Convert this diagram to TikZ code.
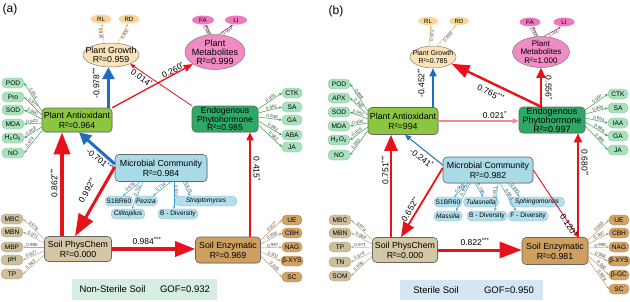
\documentclass[tikz,border=0pt]{standalone}
\usepackage{fontspec}
\setmainfont{Liberation Sans}
\usetikzlibrary{arrows.meta,shapes.geometric,calc,shadows}
\newcommand\fsz[1]{\fontsize{#1}{#1}\selectfont}
\newcommand\sig[1]{\textsuperscript{#1}}
\definecolor{cred}{HTML}{E8121B}
\definecolor{cblue}{HTML}{1F6DBE}
\definecolor{cpink}{HTML}{F28B8B}
\definecolor{cgreen}{HTML}{2EA84A}
\definecolor{corange}{HTML}{F5B35E}
\definecolor{cmag}{HTML}{B8307C}
\definecolor{csky}{HTML}{3CA6E2}
\definecolor{ctan}{HTML}{BBAA8A}
\definecolor{cbrown}{HTML}{C99B5A}
\definecolor{paf}{HTML}{8CC540}
\definecolor{epf}{HTML}{2BAA66}
\definecolor{gpl}{HTML}{A8E2BD}
\definecolor{pgf}{HTML}{FBE2B9}
\definecolor{rlf}{HTML}{F9D597}
\definecolor{pmf}{HTML}{F08BC3}
\definecolor{fal}{HTML}{EE78BC}
\definecolor{mcf}{HTML}{A8DBE6}
\definecolor{bpl}{HTML}{B2DFEC}
\definecolor{spf}{HTML}{D4C7A6}
\definecolor{spl}{HTML}{CDBE9C}
\definecolor{sef}{HTML}{CDA060}
\definecolor{sel}{HTML}{D0A265}
\definecolor{boxa}{HTML}{D6EEE1}
\definecolor{boxb}{HTML}{D5E5F2}
\begin{document}
\begin{tikzpicture}[x=1pt,y=-1pt,
  every node/.style={inner sep=0pt},
  latbox/.style={draw=black!60, line width=0.6pt, rounded corners=4pt, align=center,
    font=\fontsize{8.8}{9.8}\selectfont,
    drop shadow={opacity=0.3,shadow xshift=0.7pt,shadow yshift=-0.7pt}},
  latell/.style={ellipse, draw=black!50, line width=0.5pt},
  ltxt/.style={align=center, font=\fontsize{8.8}{9.4}\selectfont},
  pill/.style={rounded corners=4.5pt, minimum height=10pt, inner xsep=1.5pt, font=\fsz{6.6}, line width=0.25pt},
  gpill/.style={pill, fill=gpl, draw=gpl!80!black},
  bpill/.style={pill, fill=bpl, draw=bpl!80!black},
  spill/.style={pill, fill=spl, draw=spl!80!black},
  epill/.style={pill, fill=sel, draw=sel!80!black},
  smell/.style={latell, minimum width=21pt, minimum height=9pt, draw=none},
  load/.style={font=\fsz{4.5}, text=black!75, inner sep=0.3pt, sloped},
  plab/.style={font=\fsz{8.5}},
  ia/.style={line width=0.5pt, -{Stealth[length=3pt,width=2.4pt]}},
  rarr/.style n args={3}{draw=cred, line width=#1, -{Triangle[length=#2,width=#3]}},
  barr/.style n args={3}{draw=cblue, line width=#1, -{Triangle[length=#2,width=#3]}},
]
\useasboundingbox (0,0) rectangle (630,301);

% ================= panel (a) =================
\node[font=\fsz{12}] (labA) at (10,9) {(a)};

\node[latell, fill=pgf, minimum width=56pt, minimum height=24pt] (pgA) at (111,55) {};
\node[ltxt] (pgAt) at (pgA) {Plant Growth\\R²=0.959};
\node[smell, fill=rlf] (rlA) at (101,19) {};
\node[font=\fsz{6.2}] (rlAt) at (rlA) {RL};
\node[smell, fill=rlf] (rdA) at (129,19) {};
\node[font=\fsz{6.2}] (rdAt) at (rdA) {RD};

\node[latell, fill=pmf, minimum width=60pt, minimum height=35pt] (pmA) at (215,52) {};
\node[ltxt, font=\fontsize{9}{9}\selectfont] (pmAt) at (pmA) {Plant\\Metabolites\\R²=0.999};
\node[smell, fill=fal, minimum width=22pt] (faA) at (203,20) {};
\node[font=\fsz{6.2}] (faAt) at (faA) {FA};
\node[smell, fill=fal, minimum width=22pt] (liA) at (236,20) {};
\node[font=\fsz{6.2}] (liAt) at (liA) {LI};

\node[latbox, fill=paf, minimum width=70pt, minimum height=24pt] (paA) at (77,120) {Plant Antioxidant\\R²=0.964};
\node[latbox, fill=epf, minimum width=66pt, minimum height=26pt, font=\fontsize{8.6}{8.5}\selectfont] (epA) at (225,119) {Endogenous\\Phytohormone\\R²=0.985};
\node[latbox, fill=mcf, minimum width=92pt, minimum height=27pt] (mcA) at (161,168) {Microbial Community\\R²=0.984};
\node[latbox, fill=spf, minimum width=67pt, minimum height=25pt] (spA) at (78,249) {Soil PhysChem\\R²=0.000};
\node[latbox, fill=sef, minimum width=65pt, minimum height=26pt] (seA) at (228,250) {Soil Enzymatic\\R²=0.969};

% indicators (a)
\draw[ia, draw=corange] ($(pgA.north)+(-7,0)$) -- ($(rlA.south)+(1,0)$) node[load, midway, below] {0.935};
\draw[ia, draw=corange] ($(pgA.north)+(7,0)$) -- ($(rdA.south)+(-1,0)$) node[load, midway, below] {0.932};
\draw[ia, draw=cmag] ($(pmA.north)+(-4,0)$) -- ($(faA.south)+(3,0)$) node[load, midway, below] {0.988};
\draw[ia, draw=cmag] ($(pmA.north)+(4,0)$) -- ($(liA.south)+(-3,0)$) node[load, midway, below] {0.999};

\foreach \t/\y/\l [count=\i] in {POD/83/0.954,Pro/97/0.977,SOD/110/0.880,MDA/124/-0.923,{H\textsubscript{2}O\textsubscript{2}}/138/-0.958,NO/153/0.974}{
  \node[gpill, minimum width=22pt] (aa\i) at (13,\y) {\t};
  \draw[ia, draw=cgreen] ($(paA.west)+(0,-13+4*\i)$) -- (aa\i.east) node[load, pos=0.58, above] {\l};
}
\foreach \t/\y/\l [count=\i] in {CTK/93/0.991,SA/107/0.992,GA/120/0.948,ABA/135/0.982,JA/147/0.962}{
  \node[gpill, minimum width=20pt] (ae\i) at (292,\y) {\t};
  \draw[ia, draw=cgreen] ($(epA.east)+(0,-14+4*\i)$) -- (ae\i.west) node[load, pos=0.58, above] {\l};
}
\foreach \t/\y/\l [count=\i] in {MBC/219/0.979,MBN/232/0.971,MBP/247/0.986,pH/260/0.937,TP/274/0.943}{
  \node[spill, minimum width=22pt] (as\i) at (12,\y) {\t};
  \draw[ia, draw=ctan] ($(spA.west)+(0,-14+4*\i)$) -- (as\i.east) node[load, pos=0.58, above] {\l};
}
\foreach \t/\y/\l [count=\i] in {UE/220/0.927,CBH/233/0.936,NAG/247/0.987,β-XYS/261/0.931,SC/277/0.925}{
  \node[epill, minimum width=20pt] (ak\i) at (292,\y) {\t};
  \draw[ia, draw=cbrown] ($(seA.east)+(0,-14+4*\i)$) -- (ak\i.west) node[load, pos=0.58, above] {\l};
}

\node[bpill, minimum width=27pt] (s1A) at (119,201) {S1BR60};
\node[bpill, minimum width=22pt, font=\fsz{6.6}\itshape] (pezA) at (146,201) {Peziza};
\node[bpill, minimum width=62pt, font=\fsz{6.6}\itshape] (strA) at (206,201) {Streptomyces};
\node[bpill, minimum width=34pt, font=\fsz{6.6}\itshape] (cilA) at (128,214) {Cilitopilus};
\node[bpill, minimum width=40pt] (bdA) at (178,214) {B - Diversity};
\draw[ia, draw=csky] ($(mcA.south)+(-21,0)$) -- ($(s1A.north)+(4,0)$) node[load, midway, above] {0.976};
\draw[ia, draw=csky] ($(mcA.south)+(-18,0)$) -- ($(cilA.north)+(4,0)$) node[load, pos=0.35, above] {0.712};
\draw[ia, draw=csky] ($(mcA.south)+(10,0)$) -- ($(pezA.north)+(7,0)$) node[load, midway, above] {0.714};
\draw[ia, draw=csky] ($(mcA.south)+(13,0)$) -- ($(bdA.north)+(-4,0)$) node[load, pos=0.35, above] {0.970};
\draw[ia, draw=csky] ($(mcA.south)+(22,0)$) -- ($(strA.north west)+(15,0)$) node[load, midway, above] {0.979};

% paths (a)
\coordinate (a1) at ($(spA.north)+(-16,0)$);
\draw[rarr={3.5pt}{22pt}{16pt}] (a1) -- (a1 |- paA.south);
\node[plab, rotate=90] (la1) at (54,183) {0.862\sig{***}};
\draw[barr={3.5pt}{12pt}{12pt}] (paA.north -| pgA.258) -- (pgA.258);
\node[plab, rotate=90] (la2) at (96,83) {-0.978\sig{***}};
\draw[barr={3pt}{12pt}{12pt}] ($(mcA.west)+(0,-4)$) -- ($(paA.south)+(2,0)$);
\node[plab, rotate=-40] (la3) at (100,160) {-0.701\sig{***}};
\draw[rarr={3pt}{22pt}{16pt}] ($(mcA.west)+(0,-1)$) -- ($(spA.north)+(-3,0)$);
\node[plab, rotate=59] (la4) at (87,190) {0.992\sig{**}};
\draw[rarr={3.2pt}{20pt}{15pt}] (spA.east) -- (spA.east -| seA.west);
\node[plab] (la5) at (147,241) {0.984\sig{***}};
\coordinate (a2) at ($(seA.north)+(22,0)$);
\draw[rarr={1.6pt}{8pt}{7pt}] (a2) -- (a2 |- epA.south);
\node[plab, rotate=-90] (la6) at (257,169) {0.415\sig{*}};
\draw[rarr={1.3pt}{9pt}{7pt}] (paA.north east) -- (pmA);
\node[plab, rotate=28] (la7) at (173,70) {0.260\sig{*}};
\draw[rarr={0.8pt}{5pt}{4pt}] (epA.north west) -- (pgA.-25);
\node[plab, rotate=-36] (la8) at (142,78) {0.014\sig{*}};

\node[fill=boxa, minimum width=145pt, minimum height=21pt] (gofA) at (144.5,289.5) {};
\node[font=\fsz{9.5}] (nsA) at (112.5,289.5) {Non-Sterile Soil};
\node[font=\fsz{9.5}] (gA) at (185,289.5) {GOF=0.932};

% ================= panel (b) =================
\node[font=\fsz{12}] (labB) at (336,11) {(b)};

\node[latell, fill=pgf, minimum width=46pt, minimum height=22pt] (pgB) at (433,57) {};
\node[ltxt, font=\fontsize{7}{7.8}\selectfont] (pgBt) at (pgB) {Plant Growth\\R²=0.785};
\node[smell, fill=rlf, minimum width=20pt, minimum height=8pt] (rlB) at (428,21) {};
\node[font=\fsz{6}] (rlBt) at (rlB) {RL};
\node[smell, fill=rlf, minimum width=20pt, minimum height=8pt] (rdB) at (459,21) {};
\node[font=\fsz{6}] (rdBt) at (rdB) {RD};

\node[latell, fill=pmf, minimum width=57pt, minimum height=31pt] (pmB) at (541,52) {};
\node[ltxt, font=\fontsize{8}{8.6}\selectfont] (pmBt) at (pmB) {Plant\\Metabolites\\R²=1.000};
\node[smell, fill=fal] (faB) at (530,22) {};
\node[font=\fsz{6.2}] (faBt) at (faB) {FA};
\node[smell, fill=fal] (liB) at (564,22) {};
\node[font=\fsz{6.2}] (liBt) at (liB) {LI};

\node[latbox, fill=paf, minimum width=70pt, minimum height=27pt] (paB) at (403,121) {Plant Antioxidant\\R²=994};
\node[latbox, fill=epf, minimum width=66pt, minimum height=26pt, font=\fontsize{9}{8.3}\selectfont] (epB) at (552,120) {Endogenous\\Phytohormone\\R²=0.997};
\node[latbox, fill=mcf, minimum width=90pt, minimum height=26pt] (mcB) at (488,170) {Microbial Community\\R²=0.982};
\node[latbox, fill=spf, minimum width=65pt, minimum height=25pt] (spB) at (405,250) {Soil PhysChem\\R²=0.000};
\node[latbox, fill=sef, minimum width=66pt, minimum height=27pt] (seB) at (555,251) {Soil Enzymatic\\R²=0.981};

\draw[ia, draw=corange] ($(pgB.north)+(-4,0)$) -- ($(rlB.south)+(3,0)$) node[load, midway, below] {0.972};
\draw[ia, draw=corange] ($(pgB.north)+(4,0)$) -- ($(rdB.south)+(-3,0)$) node[load, midway, below] {0.958};
\draw[ia, draw=cmag] ($(pmB.north)+(-3,0)$) -- ($(faB.south)+(3,0)$) node[load, midway, below] {1.000};
\draw[ia, draw=cmag] ($(pmB.north)+(3,0)$) -- ($(liB.south)+(-3,0)$) node[load, midway, below] {1.000};

\foreach \t/\y/\l [count=\i] in {POD/84/0.969,APX/98/0.965,SOD/112/0.992,MDA/126/-0.992,{H\textsubscript{2}O\textsubscript{2}}/140/-0.929,NO/155/0.993}{
  \node[gpill, minimum width=22pt] (ba\i) at (339,\y) {\t};
  \draw[ia, draw=cgreen] ($(paB.west)+(0,-14+4*\i)$) -- (ba\i.east) node[load, pos=0.58, above] {\l};
}
\foreach \t/\y/\l [count=\i] in {CTK/94/0.997,SA/108/0.990,IAA/123/0.994,GA/136/0.996,JA/150/0.996}{
  \node[gpill, minimum width=20pt] (be\i) at (618,\y) {\t};
  \draw[ia, draw=cgreen] ($(epB.east)+(0,-14+4*\i)$) -- (be\i.west) node[load, pos=0.58, above] {\l};
}
\foreach \t/\y/\l [count=\i] in {MBC/220/0.974,MBN/233/0.964,TP/247/0.971,TN/262/0.978,SOM/276/0.956}{
  \node[spill, minimum width=22pt] (bs\i) at (340,\y) {\t};
  \draw[ia, draw=ctan] ($(spB.west)+(0,-14+4*\i)$) -- (bs\i.east) node[load, pos=0.58, above] {\l};
}
\foreach \t/\y/\l [count=\i] in {UE/220/0.968,CBH/233/0.997,NAG/247/0.998,β-XYS/261/0.988,β-GC/275/0.982,SC/289/0.989}{
  \node[epill, minimum width=20pt] (bk\i) at (619,\y) {\t};
  \draw[ia, draw=cbrown] ($(seB.east)+(0,-15+4*\i)$) -- (bk\i.west) node[load, pos=0.58, above] {\l};
}

\node[bpill, minimum width=28pt] (s1B) at (448,202) {S1BR60};
\node[bpill, minimum width=35pt, font=\fsz{6.6}\itshape] (tulB) at (481,202) {Tulasnella};
\node[bpill, minimum width=55pt, font=\fsz{6.6}\itshape] (sphB) at (537,202) {Sphingomonas};
\node[bpill, minimum width=28pt, font=\fsz{6.6}\itshape] (masB) at (448,216) {Massilia};
\node[bpill, minimum width=40pt] (bdB) at (487,216) {B - Diversity};
\node[bpill, minimum width=40pt] (fdB) at (528,216) {F - Diversity};
\draw[ia, draw=csky] ($(mcB.south)+(-20,0)$) -- ($(s1B.north)+(6,0)$) node[load, midway, above] {0.998};
\draw[ia, draw=csky] ($(mcB.south)+(-18,0)$) -- ($(masB.north)+(8,0)$) node[load, pos=0.3, above] {0.971};
\draw[ia, draw=csky] ($(mcB.south)+(-13,0)$) -- ($(tulB.north)+(2,0)$) node[load, midway, above] {0.736};
\draw[ia, draw=csky] ($(mcB.south)+(10,0)$) -- ($(bdB.north)+(8,0)$) node[load, pos=0.35, above] {0.911};
\draw[ia, draw=csky] ($(mcB.south)+(12,0)$) -- ($(fdB.north)+(-12,0)$) node[load, pos=0.45, above] {0.980};
\draw[ia, draw=csky] ($(mcB.south)+(20,0)$) -- ($(sphB.north west)+(10,0)$) node[load, midway, above] {0.993};

% paths (b)
\draw[barr={1.6pt}{8pt}{7pt}] (paB.north -| pgB.south) -- (pgB.south);
\node[plab, rotate=90] (lb1) at (421,83) {-0.452\sig{**}};
\draw[draw=cpink, line width=1.4pt, -{Triangle[length=6pt,width=5pt]}] (paB.east) -- (paB.east -| epB.west);
\node[plab] (lb2) at (495,115) {0.021\sig{*}};
\coordinate (b1) at (epB.north -| pmB.south);
\draw[rarr={2.4pt}{18pt}{13pt}] (b1) -- (pgB.-20);
\node[plab, rotate=-26] (lb3) at (491,93) {0.765\sig{***}};
\draw[rarr={2.2pt}{10pt}{9pt}] (b1) -- (pmB.south);
\node[plab, rotate=-90] (lb4) at (549,88) {0.556\sig{*}};
\draw[barr={1pt}{6pt}{5pt}] ($(mcB.west)+(0,-5)$) -- ($(paB.south)+(2,0)$);
\node[plab, rotate=-37] (lb5) at (422,158) {-0.241\sig{*}};
\coordinate (b2) at ($(spB.north)+(-14,0)$);
\draw[rarr={2.8pt}{16pt}{13pt}] (b2) -- (b2 |- paB.south);
\node[plab, rotate=90] (lb6) at (385,170) {0.751\sig{***}};
\draw[rarr={1.8pt}{15pt}{12pt}] ($(mcB.west)+(0,-2)$) -- ($(spB.north)+(-4,0)$);
\node[plab, rotate=58] (lb7) at (410,209) {0.652\sig{**}};
\draw[rarr={3pt}{22pt}{16pt}] (spB.east) -- (spB.east -| seB.west);
\node[plab] (lb8) at (475,242) {0.822\sig{***}};
\coordinate (b3) at ($(seB.north)+(23,0)$);
\draw[rarr={1.8pt}{9pt}{8pt}] (b3) -- (b3 |- epB.south);
\node[plab, rotate=-90] (lb9) at (585,163) {0.680\sig{**}};
\draw[rarr={0.9pt}{5pt}{4pt}] (mcB.east) -- (b3);
\node[plab, rotate=-57] (lb10) at (569,225) {0.120\sig{*}};

\node[fill=boxb, minimum width=143pt, minimum height=20pt] (gofB) at (471.5,290) {};
\node[font=\fsz{9.5}] (nsB) at (436,290) {Sterile Soil};
\node[font=\fsz{9.5}] (gB) at (509,290) {GOF=0.950};
\end{tikzpicture}
\end{document}
